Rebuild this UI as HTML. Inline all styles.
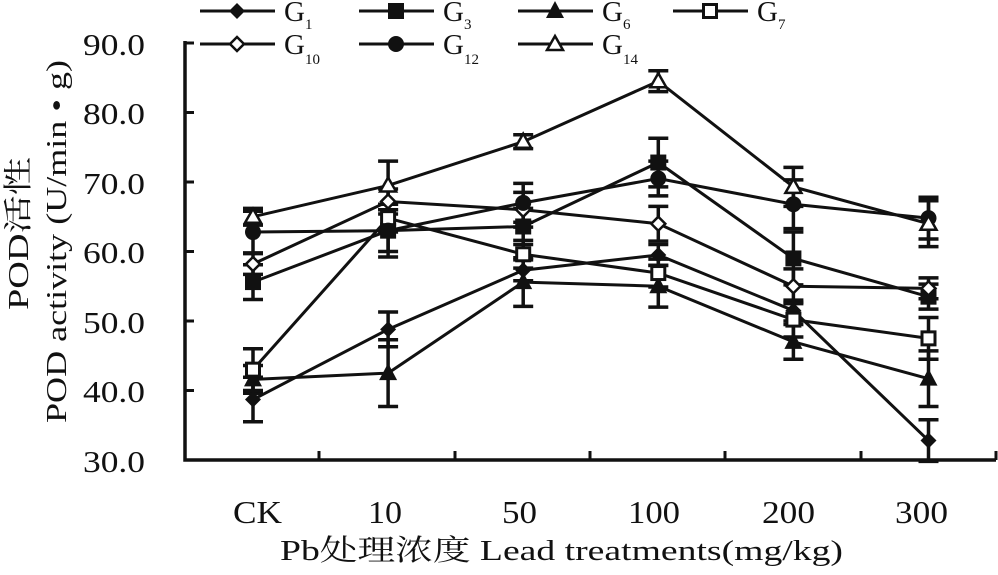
<!DOCTYPE html>
<html><head><meta charset="utf-8">
<style>
html,body{margin:0;padding:0;background:#fff;}
svg{display:block;font-family:"Liberation Serif","Noto Serif CJK SC",serif;}
</style></head>
<body>
<svg id="c" width="998" height="575" viewBox="0 0 998 575" xmlns="http://www.w3.org/2000/svg">
<g fill="#111" font-size="31">
<text x="83" y="55" textLength="62" lengthAdjust="spacingAndGlyphs">90.0</text>
<text x="83" y="124" textLength="62" lengthAdjust="spacingAndGlyphs">80.0</text>
<text x="83" y="194" textLength="62" lengthAdjust="spacingAndGlyphs">70.0</text>
<text x="83" y="263" textLength="62" lengthAdjust="spacingAndGlyphs">60.0</text>
<text x="83" y="333" textLength="62" lengthAdjust="spacingAndGlyphs">50.0</text>
<text x="83" y="402" textLength="62" lengthAdjust="spacingAndGlyphs">40.0</text>
<text x="83" y="472" textLength="62" lengthAdjust="spacingAndGlyphs">30.0</text>
</g>
<g fill="#111" font-size="32">
<text x="233" y="523" textLength="49" lengthAdjust="spacingAndGlyphs">CK</text>
<text x="368" y="523" textLength="34" lengthAdjust="spacingAndGlyphs">10</text>
<text x="502" y="523" textLength="35" lengthAdjust="spacingAndGlyphs">50</text>
<text x="628" y="523" textLength="52" lengthAdjust="spacingAndGlyphs">100</text>
<text x="762" y="523" textLength="53" lengthAdjust="spacingAndGlyphs">200</text>
<text x="895" y="523" textLength="53" lengthAdjust="spacingAndGlyphs">300</text>
<text x="280" y="560" font-size="29" textLength="563" lengthAdjust="spacingAndGlyphs">Pb处理浓度 Lead treatments(mg/kg)</text>
</g>
<text transform="translate(28,310) rotate(-90)" font-size="29" fill="#111" textLength="153" lengthAdjust="spacingAndGlyphs">POD活性</text>
<text transform="translate(66,423) rotate(-90)" font-size="29" fill="#111" textLength="363" lengthAdjust="spacingAndGlyphs">POD activity (U/min • g)</text>
<g fill="#111" font-size="29">
<text x="284" y="21">G<tspan font-size="15" dy="8">1</tspan></text>
<text x="443" y="21">G<tspan font-size="15" dy="8">3</tspan></text>
<text x="602" y="21">G<tspan font-size="15" dy="8">6</tspan></text>
<text x="757" y="21">G<tspan font-size="15" dy="8">7</tspan></text>
<text x="284" y="54">G<tspan font-size="15" dy="10">10</tspan></text>
<text x="443" y="54">G<tspan font-size="15" dy="10">12</tspan></text>
<text x="602" y="54">G<tspan font-size="15" dy="10">14</tspan></text>
</g>
<g id="g"></g>
</svg>
<script>
const g=document.getElementById('g');
let s='';
const X=i=>253+135.1*i, Y=v=>460-(v-30)*6.95;
s+='<path d="M185 41 V460 H996" fill="none" stroke="#111" stroke-width="3.5"/>';
for(let v=30;v<=90;v+=10){s+=`<line x1="185" x2="194" y1="${Y(v)}" y2="${Y(v)}" stroke="#111" stroke-width="3"/>`;}
[185,319,455,590,725,861,996].forEach(x=>{s+=`<line x1="${x}" x2="${x}" y1="460" y2="451" stroke="#111" stroke-width="3"/>`;});
function mk(t,x,y){
 if(t=='fd')return `<path d="M${x} ${y-8}L${x+8} ${y}L${x} ${y+8}L${x-8} ${y}Z" fill="#111"/>`;
 if(t=='od')return `<path d="M${x} ${y-7}L${x+7} ${y}L${x} ${y+7}L${x-7} ${y}Z" fill="#fff" stroke="#111" stroke-width="2.5"/>`;
 if(t=='fs')return `<rect x="${x-8}" y="${y-8}" width="16" height="16" fill="#111"/>`;
 if(t=='os')return `<rect x="${x-6.5}" y="${y-6.5}" width="13" height="13" fill="#fff" stroke="#111" stroke-width="3"/>`;
 if(t=='ft')return `<path d="M${x} ${y-10}L${x+9} ${y+7}L${x-9} ${y+7}Z" fill="#111"/>`;
 if(t=='ot')return `<path d="M${x} ${y-8}L${x+8} ${y+6}L${x-8} ${y+6}Z" fill="#fff" stroke="#111" stroke-width="2.5"/>`;
 if(t=='fc')return `<circle cx="${x}" cy="${y}" r="8" fill="#111"/>`;
}
const S=[
 ['fd',[38.7,48.8,57.3,59.5,51.5,32.8],[3.2,2.5,1.5,1.5,1.5,3]],
 ['fs',[55.6,63.0,63.6,72.8,59.0,53.5],[2.5,3.8,2.6,3.5,3.8,1.8]],
 ['ft',[41.6,42.5,55.6,55.0,47.0,41.7],[2,4.8,3.5,3,2.5,4]],
 ['os',[43.0,64.8,59.6,56.9,50.2,47.5],[3,2,2,2,2.5,3]],
 ['od',[58.2,67.2,66.0,64.0,55.0,54.7],[1.5,1.8,2.5,2.5,2.5,1.5]],
 ['fc',[62.8,63.0,67.0,70.5,66.8,64.8],[3,3,2.8,2.5,3.5,3]],
 ['ot',[65.0,69.5,75.8,84.5,69.3,64.0],[1.2,3.5,1,1.5,2.8,3.3]]
];
S.forEach(([t,v,e])=>{
 let p=v.map((y,i)=>`${X(i)},${Y(y)}`).join(' ');
 s+=`<polyline points="${p}" fill="none" stroke="#111" stroke-width="3"/>`;
 v.forEach((y,i)=>{const x=X(i),a=Y(y+e[i]),b=Y(y-e[i]);
  s+=`<path d="M${x} ${a}V${b}M${x-10} ${a}H${x+10}M${x-10} ${b}H${x+10}" stroke="#111" stroke-width="3.5" fill="none"/>`;});
});
S.forEach(([t,v])=>{v.forEach((y,i)=>{s+=mk(t,X(i),Y(y));});});
const L=[['fd',200,11],['fs',359,11],['ft',518,11],['os',673,11],['od',200,44],['fc',359,44],['ot',518,44]];
L.forEach(([t,x,y])=>{s+=`<line x1="${x}" x2="${x+75}" y1="${y}" y2="${y}" stroke="#111" stroke-width="3"/>`+mk(t,x+37,y);});
g.innerHTML=s;
</script>
</body></html>
